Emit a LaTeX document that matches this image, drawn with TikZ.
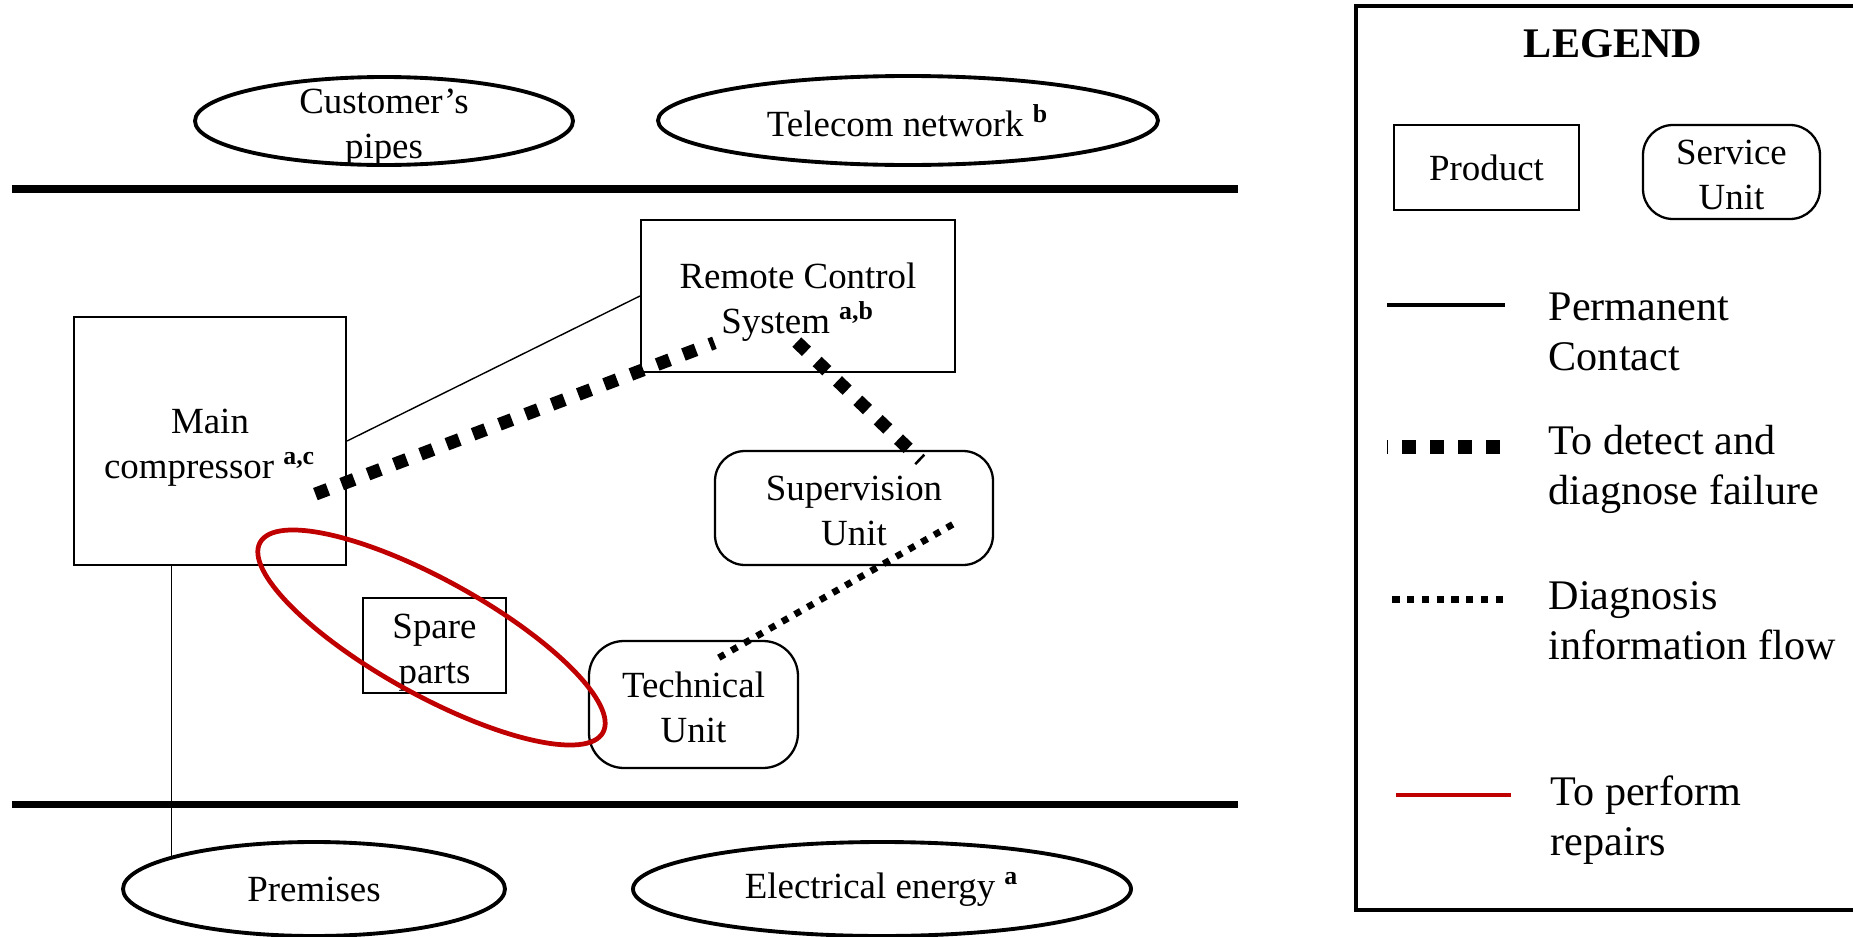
\documentclass[tikz,border=0pt]{standalone}
\usepackage{fontspec}
\setmainfont{Liberation Serif}
\usetikzlibrary{shapes.geometric}
\definecolor{repred}{RGB}{192,0,0}
\newcommand{\prodgap}{\rule{0pt}{10.8pt}}
\newcommand{\servgap}{\rule{0pt}{8.8pt}}

\tikzset{
    product/.style={draw, line width=0.6pt, align=center, inner sep=0pt},
    service/.style={draw, line width=0.65pt, rounded corners=3mm, align=center, inner sep=0pt},
    resource/.style={draw, ellipse, line width=1.1pt, align=center, inner sep=0pt},
    contact/.style={line width=0.4pt},
    detect/.style={line width=3.7pt, dash pattern=on 3.8pt off 4.2pt},
    diagflow/.style={line width=1.9pt, dash pattern=on 1.9pt off 2.25pt},
    repair/.style={draw=repred, line width=1.35pt},
    border/.style={line width=2.2pt},
    legtext/.style={anchor=west, align=left, inner sep=0pt, font=\fontsize{12}{14.2}\selectfont}
}

\begin{document}
\begin{tikzpicture}[x=0.1mm, y=-0.1mm, font=\fontsize{10.5}{12.8}\selectfont]
                    \useasboundingbox (0,0) rectangle (1853,937);

                    \draw[border] (12,188.8) -- (1238,188.8);
                    \draw[border] (12,804.5) -- (1238,804.5);

                    \node[resource, minimum width=37.8mm, minimum height=8.8mm] (pipes) at (384,121) {};
                    \node[align=center, inner sep=0pt] (pipest) at (384,128) {Customer's\\pipes};
                    \node[resource, minimum width=50mm, minimum height=8.9mm] (tel) at (908,120.5) {Telecom network \textsuperscript{\textbf{b}}};
                    \node[resource, minimum width=38.2mm, minimum height=9.4mm] (prem) at (314,889) {Premises};
                    \node[resource, minimum width=49.8mm, minimum height=9.4mm] (elec) at (882,889) {Electrical energy \textsuperscript{\textbf{a}}};

                    \node[product, minimum width=31.4mm, minimum height=15.2mm] (rcs) at (798,296) {\prodgap Remote Control\\System \textsuperscript{\textbf{a,b}}};
                    \node[product, minimum width=27.2mm, minimum height=24.8mm] (mc) at (210,441) {\prodgap Main\\compressor \textsuperscript{\textbf{a,c}}};
                    \node[product, minimum width=14.3mm, minimum height=9.5mm] (sp) at (434.5,645.5) {\prodgap Spare\\parts};
                    \node[service, minimum width=27.8mm, minimum height=11.4mm] (su) at (854,508) {\servgap Supervision\\Unit};
                    \node[service, rounded corners=3.5mm, minimum width=20.9mm, minimum height=12.7mm] (tu) at (693.5,704.5) {\servgap Technical\\Unit};

                    \draw[contact] (mc.east) -- (rcs.west);
                    \draw[contact] (prem.167) -- (prem.167 |- mc.south);

                    \coordinate (d1) at (315.4,494.1);
                    \coordinate (d2) at (714.4,342.8);
                    \coordinate (d3) at (796.8,342.1);
                    \coordinate (d4) at (920.7,460.3);
                    \coordinate (f1) at (952.9,524.3);
                    \coordinate (f2) at (718.8,657.7);
                    \draw[detect] (d1) -- (d2);
                    \draw[detect] (d3) -- (d4);
                    \draw[diagflow] (f2) -- (f1);

                    \draw[repair] (431.5,637.5) ellipse [x radius=19.6mm, y radius=5.75mm, rotate=-29];

                    \draw[line width=1.1pt] (1356,6) rectangle (1870,910);
                    \node[font=\bfseries\fontsize{12}{14.2}\selectfont] (leg) at (1613,44) {LEGEND};
                    \node[product, minimum width=18.5mm, minimum height=8.5mm] (lprod) at (1486.5,167.5) {Product};
                    \node[service, minimum width=17.7mm, minimum height=9.4mm] (lserv) at (1731.5,172) {\servgap Service\\Unit};

                    \draw[line width=1.1pt] (1387,304.7) -- (1505,304.7);
                    \node[legtext] (lperm) at (1548,332) {Permanent\\Contact};

                    \draw[line width=4pt, dash pattern=on 4pt off 4pt, dash phase=3.72pt] (1387,447) -- (1499.7,447);
                    \node[legtext] (ldet) at (1548,469) {To detect and\\diagnose failure};

                    \draw[line width=2.1pt, dash pattern=on 2.1pt off 2.1pt] (1392.3,599.7) -- (1502.7,599.7);
                    \node[legtext] (ldiag) at (1548,621) {Diagnosis\\information flow};

                    \draw[repair] (1396,795) -- (1511,795);
                    \node[legtext] (lrep) at (1550,820) {To perform\\repairs};

                \end{tikzpicture}
\end{document}
